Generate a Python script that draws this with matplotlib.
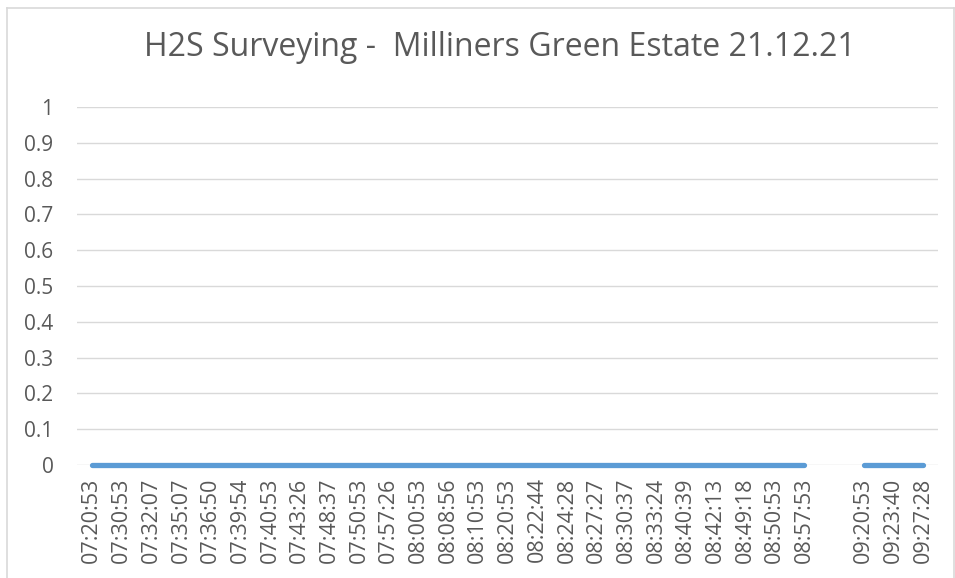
import matplotlib.pyplot as plt
from matplotlib.lines import Line2D
import numpy as np

TIMES = [
    "07:20:53", "07:30:53", "07:32:07", "07:35:07", "07:36:50", "07:39:54",
    "07:40:53", "07:43:26", "07:48:37", "07:50:53", "07:57:26", "08:00:53",
    "08:08:56", "08:10:53", "08:20:53", "08:22:44", "08:24:28", "08:27:27",
    "08:30:37", "08:33:24", "08:40:39", "08:42:13", "08:49:18", "08:50:53",
    "08:57:53", "", "09:20:53", "09:23:40", "09:27:28",
]
H2S = [
    0, 0, 0, 0, 0, 0,
    0, 0, 0, 0, 0, 0,
    0, 0, 0, 0, 0, 0,
    0, 0, 0, 0, 0, 0,
    0, None, 0, 0, 0,
]
Y_TICKS = [0, 0.1, 0.2, 0.3, 0.4, 0.5, 0.6, 0.7, 0.8, 0.9, 1]
Y_LABELS = ["0", "0.1", "0.2", "0.3", "0.4", "0.5", "0.6", "0.7", "0.8", "0.9", "1"]
TITLE = "H2S Surveying -  Milliners Green Estate 21.12.21"

TEXT_COLOR = "#595959"
GRID_COLOR = "#d9d9d9"
LINE_COLOR = "#5b9bd5"

plt.rcParams["font.family"] = ["Open Sans", "DejaVu Sans"]

W, H = 955, 578
fig = plt.figure(figsize=(W / 100, H / 100), dpi=100)
ax = fig.add_axes([77 / W, 1 - 465 / H, (938 - 77) / W, (465 - 107) / H])

x = np.arange(len(TIMES))
y = np.array([np.nan if v is None else v for v in H2S], dtype=float)
ax.plot(x, y, color=LINE_COLOR, linewidth=3.8, solid_capstyle="round", zorder=3, clip_on=False)

ax.set_xlim(-0.5, len(TIMES) - 0.5)
ax.set_ylim(0, 1)
ax.set_yticks(Y_TICKS)
ax.set_yticklabels(Y_LABELS)
ax.set_xticks(x)
ax.set_xticklabels(TIMES, rotation=90)
ax.tick_params(axis="y", length=0, pad=17, labelsize=15, labelcolor=TEXT_COLOR)
ax.tick_params(axis="x", length=0, pad=9, labelsize=15.5, labelcolor=TEXT_COLOR)

ax.grid(axis="y", color=GRID_COLOR, linewidth=1)
ax.grid(axis="x", visible=False)
ax.set_axisbelow(True)
for side in ["top", "right", "left", "bottom"]:
    ax.spines[side].set_visible(False)

fig.text(500 / W, 1 - 48 / H, TITLE, ha="center", va="center", fontsize=23, color=TEXT_COLOR)

# chart border (cropped at the bottom in the original)
border = dict(color="#d9d9d9", linewidth=1.2, transform=fig.transFigure)
fig.add_artist(Line2D([7 / W, 954 / W], [1 - 8 / H, 1 - 8 / H], **border))
fig.add_artist(Line2D([7 / W, 7 / W], [0, 1 - 8 / H], **border))
fig.add_artist(Line2D([954 / W, 954 / W], [0, 1 - 8 / H], **border))

fig.savefig("out.png", dpi=100)
